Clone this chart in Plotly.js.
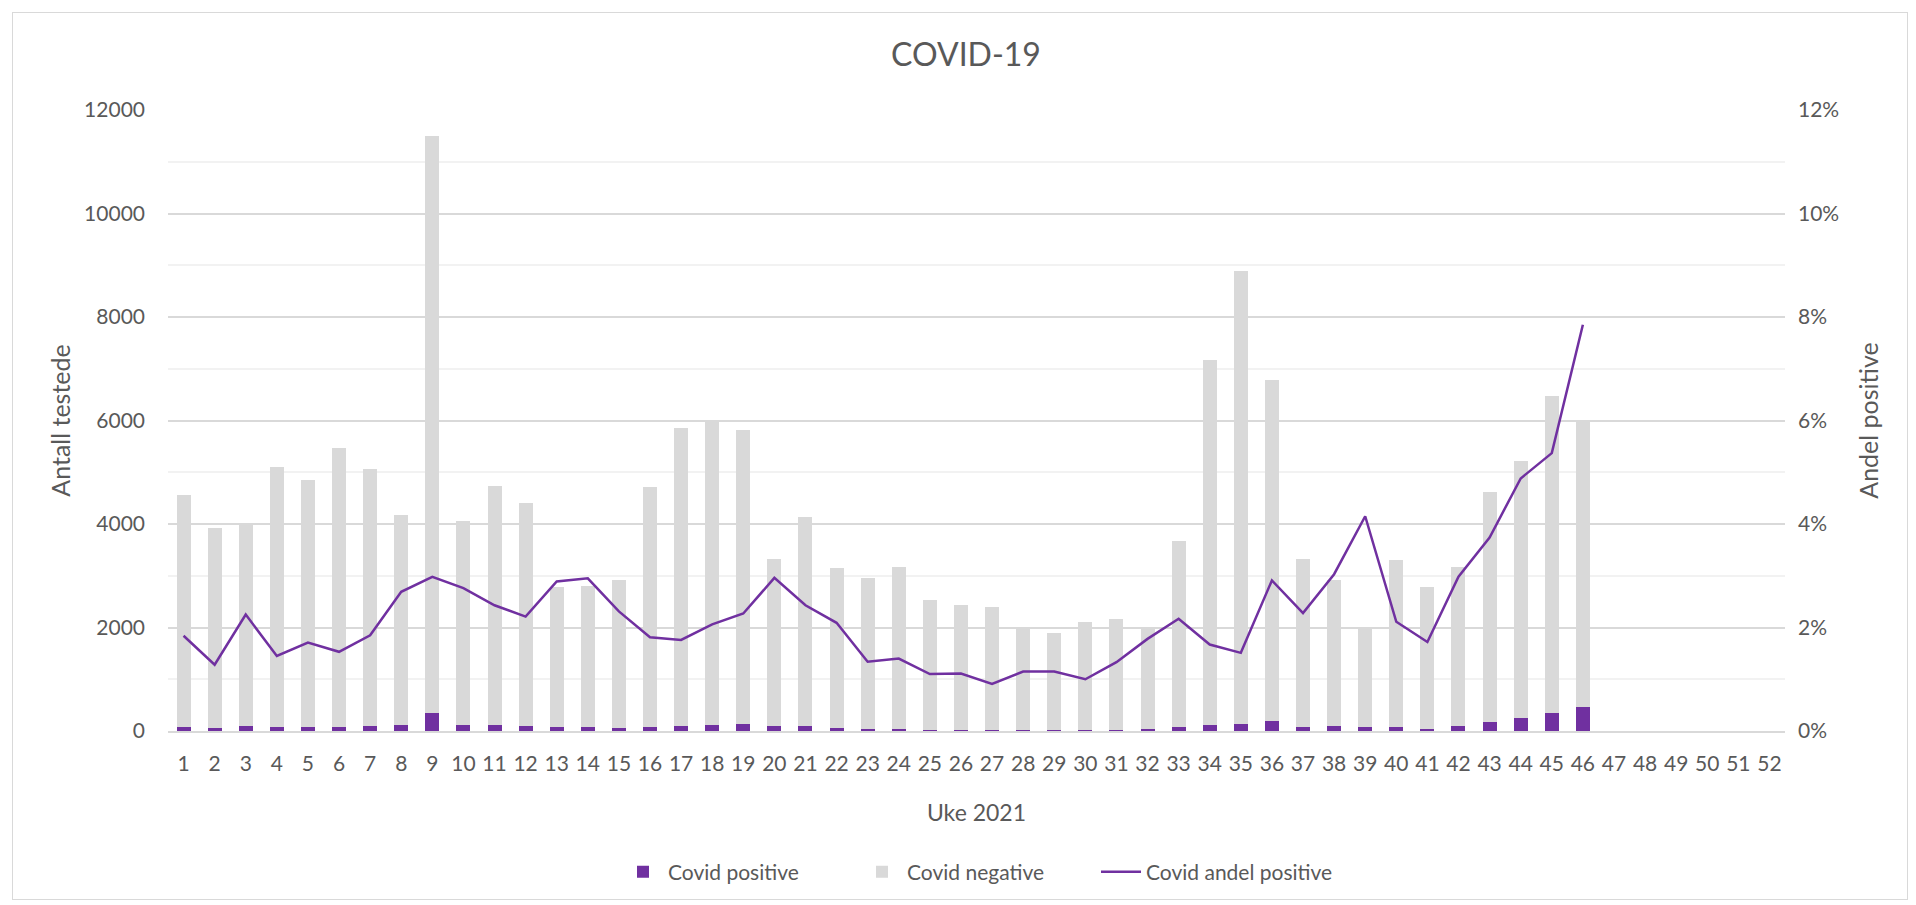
<!DOCTYPE html>
<html>
<head>
<meta charset="utf-8">
<script src="https://cdn.plot.ly/plotly-3.0.1.min.js"></script>
<style>
  html, body { margin: 0; padding: 0; background: #ffffff; }
  #wrap { position: relative; width: 1916px; height: 905px; }
  #frame { position: absolute; left: 12px; top: 12px; width: 1896px; height: 888px; border: 1px solid #d9d9d9; box-sizing: border-box; }
  #chart { position: absolute; left: 0; top: 0; width: 1916px; height: 905px; }
</style>
</head>
<body>
<div id="wrap">
  <div id="frame"></div>
  <div id="chart"></div>
</div>
<script>
// ---- Data ----
const weeks = [1,2,3,4,5,6,7,8,9,10,11,12,13,14,15,16,17,18,19,20,21,22,23,24,25,26,27,28,29,30,31,32,33,34,35,36,37,38,39,40,41,42,43,44,45,46];

const weekTickValues = [1,2,3,4,5,6,7,8,9,10,11,12,13,14,15,16,17,18,19,20,21,22,23,24,25,26,27,28,29,30,31,32,33,34,35,36,37,38,39,40,41,42,43,44,45,46,47,48,49,50,51,52];
const weekTickLabels = ["1","2","3","4","5","6","7","8","9","10","11","12","13","14","15","16","17","18","19","20","21","22","23","24","25","26","27","28","29","30","31","32","33","34","35","36","37","38","39","40","41","42","43","44","45","46","47","48","49","50","51","52"];

const covidPositive = [84,50,90,74,83,84,94,112,343,112,115,97,81,83,67,85,103,124,132,99,100,66,40,44,28,27,22,23,22,21,29,35,80,120,134,198,76,88,83,70,48,94,172,254,347,469];

const covidNegative = [4486,3870,3910,5036,4777,5376,4966,4068,11157,3938,4625,4313,2709,2717,2843,4635,5747,5876,5678,3231,4030,3084,2920,3116,2502,2403,2368,1967,1868,2089,2141,1955,3590,7050,8756,6592,3254,2832,1907,3240,2742,3066,4438,4956,6123,5511];

const covidShare = [0.0184,0.0128,0.0225,0.0145,0.0171,0.0153,0.0185,0.0269,0.0298,0.0276,0.0243,0.0221,0.0289,0.0295,0.0231,0.0181,0.0176,0.0206,0.0227,0.0296,0.0243,0.0209,0.0134,0.0140,0.0110,0.0111,0.0091,0.0115,0.0115,0.0100,0.0133,0.0178,0.0217,0.0167,0.0151,0.0291,0.0228,0.0303,0.0415,0.0211,0.0172,0.0298,0.0374,0.0488,0.0537,0.0785];

// ---- Styles ----
const PURPLE = '#7030A0';
const GREY = '#D9D9D9';
const TEXT = '#595959';
const FONT = 'Lato, "Open Sans", sans-serif';

const traces = [
  {
    type: 'bar', name: 'Covid positive', x: weeks, y: covidPositive,
    marker: { color: PURPLE }, yaxis: 'y', hoverinfo: 'x+y+name'
  },
  {
    type: 'bar', name: 'Covid negative', x: weeks, y: covidNegative,
    marker: { color: GREY }, yaxis: 'y', hoverinfo: 'x+y+name'
  },
  {
    type: 'scatter', mode: 'lines', name: 'Covid andel positive', x: weeks, y: covidShare,
    line: { color: PURPLE, width: 2.5 }, yaxis: 'y2'
  }
];

const layout = {
  width: 1916, height: 905,
  paper_bgcolor: 'rgba(0,0,0,0)', plot_bgcolor: 'rgba(0,0,0,0)',
  font: { family: FONT, color: TEXT, size: 21 },
  margin: { l: 168, r: 131, t: 110, b: 174 },
  barmode: 'stack', bargap: 0.55,
  title: {
    text: 'COVID-19', font: { family: FONT, size: 32, color: TEXT },
    x: 966 / 1916, xanchor: 'center', xref: 'container', y: 1 - 55/905, yanchor: 'middle', yref: 'container'
  },
  xaxis: {
    range: [0.5, 52.5], tickmode: 'array', tickvals: weekTickValues, ticktext: weekTickLabels,
    showgrid: false, zeroline: false, showline: true, linecolor: GREY, linewidth: 1.5,
    ticks: '', ticklabelstandoff: 13, tickfont: { size: 21, color: TEXT },
    title: { text: 'Uke 2021', font: { size: 23, color: TEXT }, standoff: 31 },
    fixedrange: true
  },
  yaxis: {
    range: [0, 12000], dtick: 2000, tick0: 0, tickformat: 'd',
    showgrid: true, gridcolor: GREY, gridwidth: 1.5,
    minor: { dtick: 1000, showgrid: true, gridcolor: '#F2F2F2', gridwidth: 1.5, ticks: '' },
    zeroline: false, showline: false, ticks: '', ticklabelstandoff: 22,
    tickfont: { size: 21, color: TEXT },
    title: { text: 'Antall testede', font: { size: 25, color: TEXT }, standoff: 6 },
    fixedrange: true
  },
  yaxis2: {
    overlaying: 'y', side: 'right', range: [0, 0.12], dtick: 0.02, tick0: 0, tickformat: '.0%',
    showgrid: false, zeroline: false, showline: false, ticks: '', ticklabelstandoff: 12,
    tickfont: { size: 21, color: TEXT },
    title: { text: 'Andel positive', font: { size: 25, color: TEXT }, standoff: 22 },
    fixedrange: true
  },
  legend: {
    orientation: 'h', x: 0.5, xanchor: 'center', y: (731 - 872) / 621, yanchor: 'middle',
    font: { size: 21, color: TEXT }, traceorder: 'normal', entrywidth: 184, itemwidth: 40
  },
  showlegend: true
};

Plotly.newPlot('chart', traces, layout, { displayModeBar: false, staticPlot: false });
</script>
</body>
</html>
